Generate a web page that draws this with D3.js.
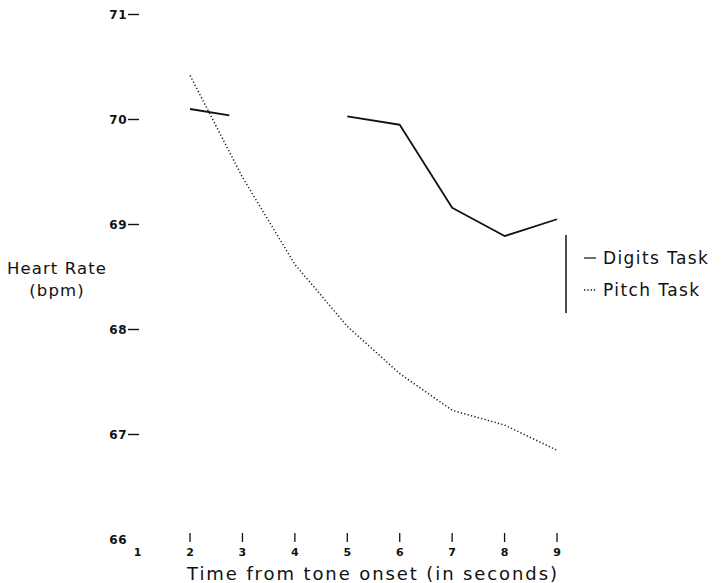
<!DOCTYPE html>
<html>
<head>
<meta charset="utf-8">
<script src="https://cdn.jsdelivr.net/npm/d3@7"></script>
<style>
  html, body { margin: 0; padding: 0; background: #fff; }
  svg { display: block; }
  text { font-family: "DejaVu Sans", sans-serif; fill: #111; }
</style>
</head>
<body>
<script>
// ---- data ----
const xTicks = [1, 2, 3, 4, 5, 6, 7, 8, 9];
const yTicks = [66, 67, 68, 69, 70, 71];

// Digits task (solid); null marks the gap in the drawn line
const digitsTimes  = [2, 2.75, 4, 5, 6, 7, 8, 9];
const digitsValues = [70.10, 70.04, null, 70.03, 69.95, 69.16, 68.89, 69.05];

// Pitch task (dotted)
const pitchTimes  = [2, 3, 4, 5, 6, 7, 8, 9];
const pitchValues = [70.42, 69.45, 68.62, 68.03, 67.58, 67.23, 67.09, 66.85];

const legendLabels = ["Digits Task", "Pitch Task"];

// ---- chart ----
const W = 726, H = 583;
const svg = d3.select("body").append("svg").attr("width", W).attr("height", H);

const x = d3.scaleLinear().domain([1, 9]).range([137.6, 557]);
const y = d3.scaleLinear().domain([66, 71]).range([539.5, 14.5]);

// y axis tick labels with dashes
const yg = svg.append("g");
yTicks.forEach(v => {
  yg.append("text")
    .attr("x", 127).attr("y", y(v) + 4.5)
    .attr("text-anchor", "end")
    .attr("font-size", 12).attr("font-weight", "bold")
    .attr("letter-spacing", 0.5)
    .text(v);
  if (v !== 66) {
    yg.append("line")
      .attr("x1", 128).attr("x2", 139)
      .attr("y1", y(v)).attr("y2", y(v))
      .attr("stroke", "#111").attr("stroke-width", 1.4);
  }
});

// x axis ticks and labels
const xg = svg.append("g");
xTicks.forEach(v => {
  if (v !== 1) {
    xg.append("line")
      .attr("x1", x(v)).attr("x2", x(v))
      .attr("y1", 533).attr("y2", 542)
      .attr("stroke", "#111").attr("stroke-width", 1.3);
  }
  xg.append("text")
    .attr("x", x(v)).attr("y", 556)
    .attr("text-anchor", "middle")
    .attr("font-size", 11).attr("font-weight", "bold")
    .text(v);
});

// axis titles
svg.append("text")
  .attr("x", 373).attr("y", 580)
  .attr("text-anchor", "middle")
  .attr("font-size", 18)
  .attr("letter-spacing", 1.9)
  .text("Time from tone onset (in seconds)");

svg.append("text")
  .attr("x", 57).attr("y", 274)
  .attr("text-anchor", "middle")
  .attr("font-size", 16.5)
  .attr("letter-spacing", 1.1)
  .text("Heart Rate");
svg.append("text")
  .attr("x", 57).attr("y", 296)
  .attr("text-anchor", "middle")
  .attr("font-size", 16.5)
  .attr("letter-spacing", 1.1)
  .text("(bpm)");

// lines
const digitsData = digitsTimes.map((t, i) => ({ t, v: digitsValues[i] }));
const pitchData = pitchTimes.map((t, i) => ({ t, v: pitchValues[i] }));

const line = d3.line()
  .defined(d => d.v !== null)
  .x(d => x(d.t)).y(d => y(d.v));

svg.append("path")
  .datum(digitsData)
  .attr("d", line)
  .attr("fill", "none")
  .attr("stroke", "#111")
  .attr("stroke-width", 1.8)
  .attr("stroke-linejoin", "round");

svg.append("path")
  .datum(pitchData)
  .attr("d", line)
  .attr("fill", "none")
  .attr("stroke", "#222")
  .attr("stroke-width", 1.5)
  .attr("stroke-dasharray", "1.3,2.2");

// legend
svg.append("line")
  .attr("x1", 566).attr("x2", 566)
  .attr("y1", 235).attr("y2", 313)
  .attr("stroke", "#111").attr("stroke-width", 1.5);

const legY = [258, 290];
legendLabels.forEach((lab, i) => {
  svg.append("line")
    .attr("x1", 584).attr("x2", 596)
    .attr("y1", legY[i]).attr("y2", legY[i])
    .attr("stroke", "#111")
    .attr("stroke-width", i === 0 ? 1.2 : 1.3)
    .attr("stroke-dasharray", i === 0 ? null : "1.3,2");
  svg.append("text")
    .attr("x", 603).attr("y", legY[i] + 6)
    .attr("font-size", 17)
    .attr("letter-spacing", 1.4)
    .text(lab);
});
</script>
</body>
</html>
